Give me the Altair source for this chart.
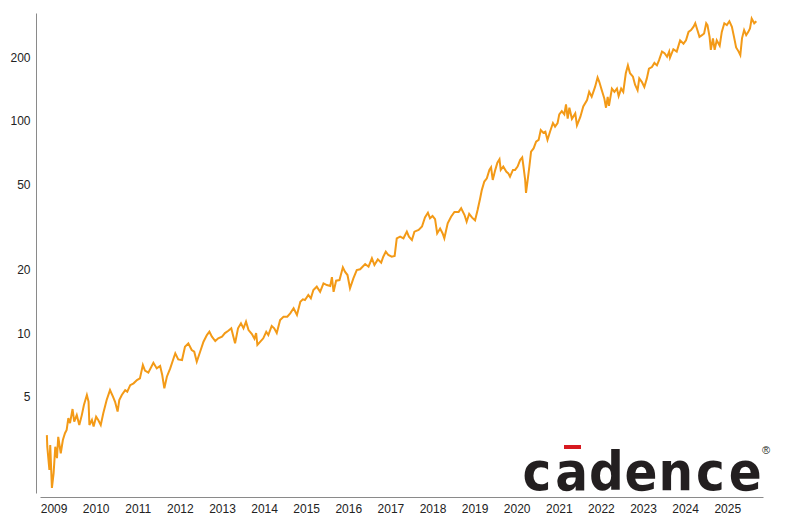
import altair as alt
import pandas as pd

# Decimal-year dates and closing prices
years = [
    2008.84, 2008.85, 2008.90, 2008.92, 2008.96, 2009.00, 2009.04, 2009.08, 2009.11, 2009.17,
    2009.22, 2009.27, 2009.31, 2009.35, 2009.39, 2009.45, 2009.49, 2009.55, 2009.61, 2009.67,
    2009.72, 2009.79, 2009.83, 2009.85, 2009.91, 2009.95, 2010.01, 2010.06, 2010.12, 2010.18,
    2010.26, 2010.34, 2010.41, 2010.46, 2010.52, 2010.56, 2010.62, 2010.70, 2010.75, 2010.82,
    2010.90, 2010.98, 2011.05, 2011.12, 2011.17, 2011.25, 2011.37, 2011.45, 2011.53, 2011.58,
    2011.63, 2011.69, 2011.77, 2011.85, 2011.89, 2011.96, 2012.05, 2012.12, 2012.20, 2012.28,
    2012.34, 2012.40, 2012.48, 2012.56, 2012.64, 2012.70, 2012.76, 2012.84, 2012.91, 2013.00,
    2013.07, 2013.15, 2013.22, 2013.27, 2013.31, 2013.38, 2013.45, 2013.51, 2013.57, 2013.63,
    2013.71, 2013.77, 2013.81, 2013.84, 2013.91, 2013.98, 2014.05, 2014.10, 2014.18, 2014.24,
    2014.30, 2014.38, 2014.46, 2014.55, 2014.62, 2014.70, 2014.78, 2014.86, 2014.92, 2014.97,
    2015.05, 2015.11, 2015.17, 2015.25, 2015.33, 2015.41, 2015.49, 2015.57, 2015.61, 2015.65,
    2015.71, 2015.79, 2015.87, 2015.92, 2015.98, 2016.04, 2016.12, 2016.20, 2016.28, 2016.40,
    2016.48, 2016.56, 2016.62, 2016.70, 2016.78, 2016.83, 2016.89, 2016.95, 2017.03, 2017.10,
    2017.15, 2017.23, 2017.31, 2017.39, 2017.44, 2017.51, 2017.57, 2017.67, 2017.75, 2017.82,
    2017.89, 2017.94, 2018.00, 2018.06, 2018.11, 2018.18, 2018.24, 2018.28, 2018.36, 2018.44,
    2018.52, 2018.62, 2018.68, 2018.76, 2018.81, 2018.87, 2018.94, 2019.01, 2019.07, 2019.13,
    2019.17, 2019.23, 2019.29, 2019.35, 2019.39, 2019.43, 2019.49, 2019.54, 2019.59, 2019.62,
    2019.68, 2019.75, 2019.80, 2019.84, 2019.91, 2019.96, 2020.02, 2020.08, 2020.13, 2020.16,
    2020.20, 2020.22, 2020.26, 2020.30, 2020.34, 2020.40, 2020.46, 2020.52, 2020.57, 2020.63,
    2020.68, 2020.73, 2020.79, 2020.86, 2020.91, 2020.97, 2021.01, 2021.07, 2021.13, 2021.17,
    2021.21, 2021.25, 2021.31, 2021.39, 2021.43, 2021.51, 2021.58, 2021.67, 2021.72, 2021.78,
    2021.86, 2021.92, 2021.96, 2022.02, 2022.08, 2022.12, 2022.16, 2022.19, 2022.26, 2022.32,
    2022.38, 2022.42, 2022.48, 2022.53, 2022.59, 2022.64, 2022.69, 2022.76, 2022.81, 2022.87,
    2022.91, 2022.97, 2023.03, 2023.09, 2023.14, 2023.21, 2023.27, 2023.33, 2023.38, 2023.45,
    2023.51, 2023.57, 2023.62, 2023.64, 2023.72, 2023.80, 2023.88, 2023.96, 2024.02, 2024.08,
    2024.14, 2024.20, 2024.24, 2024.29, 2024.34, 2024.40, 2024.45, 2024.50, 2024.53, 2024.58,
    2024.61, 2024.66, 2024.70, 2024.75, 2024.82, 2024.87, 2024.93, 2024.99, 2025.05, 2025.11,
    2025.16, 2025.21, 2025.27, 2025.31, 2025.35, 2025.40, 2025.45, 2025.50, 2025.54, 2025.58,
    2025.64, 2025.69,
]
prices = [
    3.30, 2.91, 2.26, 2.96, 1.86, 2.18, 2.91, 2.57, 3.24, 2.71,
    3.13, 3.37, 3.49, 3.97, 3.76, 4.38, 3.82, 4.10, 3.68, 4.10,
    4.58, 5.10, 4.74, 3.68, 3.89, 3.62, 4.03, 3.89, 3.68, 4.18,
    4.83, 5.38, 5.01, 4.74, 4.26, 4.83, 5.10, 5.38, 5.29, 5.68,
    5.79, 6.00, 6.11, 7.07, 6.65, 6.50, 7.24, 6.81, 6.99, 6.34,
    5.48, 6.22, 6.81, 7.60, 8.02, 7.51, 7.46, 8.62, 8.94, 8.31,
    8.16, 7.32, 8.16, 9.10, 9.78, 10.14, 9.61, 9.17, 9.44, 9.61,
    9.99, 10.25, 10.52, 9.61, 8.94, 10.52, 11.11, 10.52, 11.31, 10.33,
    9.89, 9.40, 9.99, 8.78, 9.10, 9.44, 10.14, 9.78, 10.79, 10.52,
    9.99, 11.51, 11.94, 11.94, 12.39, 13.08, 12.16, 14.05, 14.42, 14.31,
    15.12, 14.58, 15.96, 16.54, 15.65, 17.16, 16.84, 16.65, 18.35, 15.65,
    17.65, 17.78, 20.41, 19.46, 18.77, 16.25, 18.11, 19.80, 19.98, 21.16,
    20.55, 22.50, 20.93, 22.25, 21.46, 22.91, 24.18, 23.33, 22.91, 23.09,
    27.97, 28.49, 27.97, 30.06, 28.49, 27.48, 30.06, 30.65, 31.79, 35.12,
    36.91, 34.74, 35.61, 34.41, 29.49, 31.11, 29.49, 27.97, 32.92, 35.37,
    37.24, 37.24, 38.77, 36.01, 33.5, 36.5, 35.0, 34.0, 38.0, 43.1,
    47.2, 51.8, 53.6, 58.8, 60.5, 52.7, 58.8, 63.6, 66.0, 58.8,
    61.0, 57.7, 56.6, 54.6, 58.8, 58.8, 61.0, 65.4, 67.3, 61.0,
    52.7, 45.8, 52.7, 61.0, 71.6, 74.2, 79.9, 81.4, 90.6, 88.0,
    89.0, 81.4, 89.0, 97.8, 94.1, 97.8, 107.4, 111.3, 107.4, 119.6,
    102.5, 115.5, 102.4, 108.6, 95.4, 104.5, 117.0, 125.5, 137.2, 130.0,
    144.7, 160.5, 153.0, 139.5, 127.8, 115.5, 130.0, 117.9, 142.1, 137.2,
    142.1, 131.0, 142.1, 137.2, 167.9, 182.9, 167.9, 161.7, 148.2, 139.5,
    158.8, 153.0, 144.7, 158.8, 176.3, 179.6, 187.8, 182.9, 193.6, 212.4,
    208.6, 200.8, 212.4, 199.0, 218.0, 212.4, 239.9, 231.4, 239.9, 263.2,
    268.4, 278.3, 288.9, 268.4, 249.2, 253.9, 258.8, 288.9, 283.4, 249.2,
    216.6, 245.3, 216.6, 239.9, 226.3, 263.2, 288.9, 283.4, 295.5, 278.3,
    249.2, 222.2, 212.4, 204.4, 245.3, 268.4, 253.9, 263.2, 273.3, 303.9,
    288.9, 295.5,
]
year_ticks = list(range(2009, 2026))
y_ticks = [5, 10, 20, 50, 100, 200]
logo_letters = ["c", "a", "d", "e", "n", "c", "e"]

ys = pd.Series(years)
dates = pd.Timestamp("2009-01-01") + pd.to_timedelta((ys - 2009) * 365.25, unit="D")
df = pd.DataFrame({"date": dates.dt.strftime("%Y-%m-%dT%H:%M:%S"), "price": prices})

FONT = "Liberation Sans, Arial, Helvetica, sans-serif"

line = alt.Chart(df).mark_line(color="#F39A17", strokeWidth=2, interpolate="linear").encode(
    x=alt.X(
        "date:T",
        scale=alt.Scale(domain=[alt.DateTime(year=2008, month=9, date=5),
                                alt.DateTime(year=2025, month=11, date=7)]),
        axis=alt.Axis(
            values=[alt.DateTime(year=y, month=1, date=1) for y in year_ticks],
            format="%Y", title=None, grid=False, ticks=False, tickSize=0,
            labelPadding=6, offset=4, domainColor="#8a8a8a", labelFlush=False,
            labelOverlap=False,
        ),
    ),
    y=alt.Y(
        "price:Q",
        scale=alt.Scale(type="log", domain=[1.76, 323], nice=False),
        axis=alt.Axis(
            values=y_ticks, format="d", title=None, grid=False, ticks=False,
            tickSize=0, labelPadding=6, offset=4, domainColor="#8a8a8a",
            labelFlush=False,
        ),
    ),
)

one = alt.Data(values=[{}])
logo_x0 = 497  # plot-area px of first letter centre
layers = [line]
for i, ch in enumerate(logo_letters):
    layers.append(
        alt.Chart(one).mark_text(
            text=ch, font="Liberation Sans Narrow, DejaVu Sans Condensed, Arial Narrow, sans-serif",
            fontSize=54, fontWeight="bold", color="#231f20", align="center", baseline="alphabetic",
        ).encode(x=alt.value(logo_x0 + i * 34.7), y=alt.value(477))
    )
layers.append(
    alt.Chart(one).mark_rect(color="#d71920").encode(
        x=alt.value(524), x2=alt.value(541), y=alt.value(432), y2=alt.value(436)
    )
)
layers.append(
    alt.Chart(one).mark_text(text="®", fontSize=11, font=FONT, color="#231f20", align="center",
                             baseline="middle").encode(x=alt.value(726), y=alt.value(438))
)

chart = alt.layer(*layers).properties(
    width=723, height=480,
    padding={"left": 32, "top": 5, "right": 25, "bottom": 25},
    autosize=alt.AutoSizeParams(type="none"),
).configure_view(stroke=None).configure_axis(
    labelFont=FONT, labelFontSize=12, labelColor="#222222", domainWidth=1
)

chart.save("out.html", embed_options={"renderer": "svg", "actions": False})
